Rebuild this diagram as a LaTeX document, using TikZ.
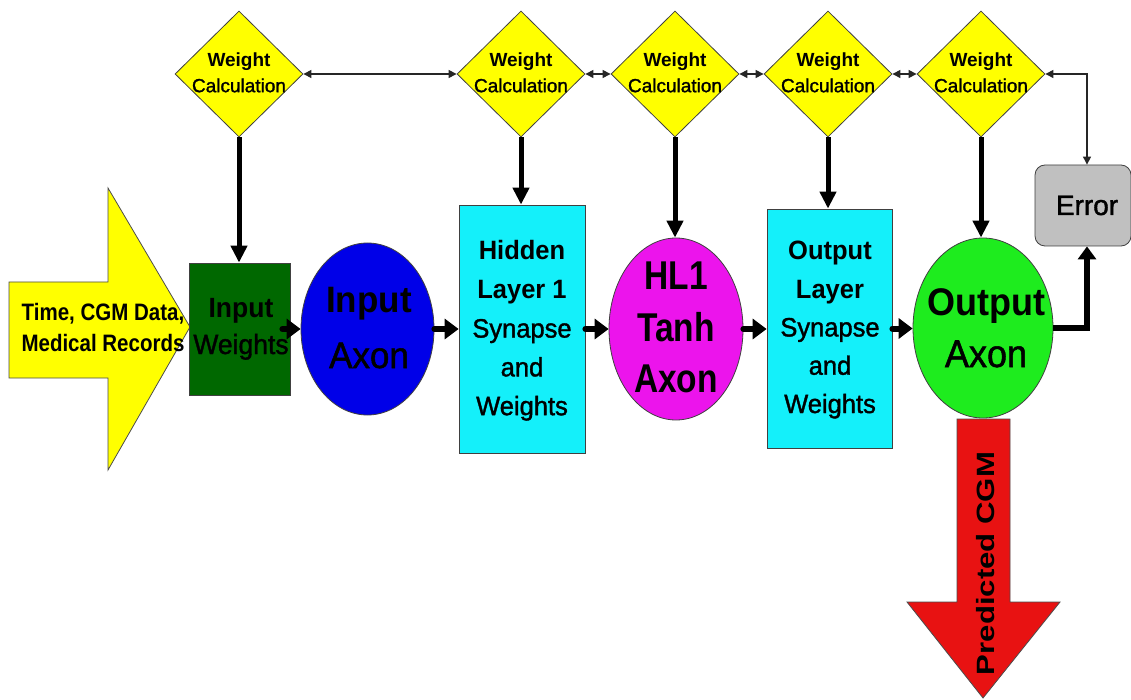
\documentclass[tikz,border=0pt]{standalone}
\usepackage{fontspec}
\setmainfont{Liberation Sans}
\newfontfamily\medium[FakeBold=1.4]{Liberation Sans}
\usepackage{graphicx}
\usetikzlibrary{shapes.geometric,arrows.meta}

\definecolor{calcyellow}{RGB}{255,255,0}
\definecolor{wgreen}{RGB}{0,104,0}
\definecolor{axblue}{RGB}{0,0,232}
\definecolor{layercyan}{RGB}{20,240,250}
\definecolor{hlmagenta}{RGB}{236,20,236}
\definecolor{outgreen}{RGB}{30,236,30}
\definecolor{errgray}{RGB}{192,192,192}
\definecolor{predred}{RGB}{232,18,18}

% stacked, centred lines: size, line pitch, vertical stretch, lines
\newcommand\stk[4]{\scalebox{1}[#3]{\fontsize{#1}{#2}\selectfont\begin{tabular}{@{}c@{}}#4\end{tabular}}}

\begin{document}
\begin{tikzpicture}[x=1pt,y=-1pt,
  lbl/.style={inner sep=0pt, text=black},
  calc/.style={diamond, draw=black!75, line width=0.8pt, fill=calcyellow,
    minimum width=128pt, minimum height=126pt, inner sep=0pt},
  boxed/.style={rectangle, draw=black!75, line width=0.8pt, inner sep=0pt},
  oval/.style={ellipse, draw=black!75, line width=0.8pt, inner sep=0pt},
  flow/.style={line width=6pt, line cap=round, -{Triangle[length=14pt,width=20pt]}},
  feed/.style={line width=5pt, -{Triangle[length=17pt,width=16pt]}},
  link/.style={line width=1.1pt, draw=black!85,
    {Triangle[length=8pt,width=8pt]}-{Triangle[length=8pt,width=8pt]}},
  arrowshape/.style={draw=black!70, line width=0.8pt}
]
\fill[white] (0,0) rectangle (1131,700);
\useasboundingbox (0,0) rectangle (1131,700);

% input arrow
\draw[arrowshape, fill=calcyellow] (9,282) -- (108,282) -- (108,188) -- (190,327)
  -- (108,470) -- (108,378) -- (9,378) -- cycle;
\node[lbl] (inputs) at (103,329.5)
  {\stk{20.5}{26.7}{1.16}{\bfseries Time, CGM Data,\\\bfseries Medical Records}};

% prediction arrow
\draw[arrowshape, fill=predred] (957,419) -- (1010,419) -- (1010,602) -- (1060,602)
  -- (983,698) -- (907,602) -- (957,602) -- cycle;

% weight calculation diamonds
\node[calc] (d1) at (239,74) {};
\node[calc] (d2) at (521,74) {};
\node[calc] (d3) at (675,74) {};
\node[calc] (d4) at (828,74) {};
\node[calc] (d5) at (981,74) {};
\foreach \d in {d1,d2,d3,d4,d5}
  \node[lbl] (\d t) at (\d) {\stk{19}{26}{1}{\bfseries Weight\\\medium Calculation}};

% network stages
\node[boxed, fill=wgreen, minimum width=101pt, minimum height=132pt] (iw) at (239.5,329) {};
\node[oval, fill=axblue, minimum width=133pt, minimum height=172pt] (ia) at (367.5,329) {};
\node[boxed, fill=layercyan, minimum width=126pt, minimum height=248pt] (hid) at (522,329) {};
\node[oval, fill=hlmagenta, minimum width=134pt, minimum height=182pt] (hl1) at (676,329) {};
\node[boxed, fill=layercyan, minimum width=125pt, minimum height=239pt] (ol) at (829.5,328.5) {};
\node[oval, fill=outgreen, minimum width=140pt, minimum height=180pt] (oa) at (983,328) {};
\node[boxed, fill=errgray, rounded corners=10pt, minimum width=96pt, minimum height=81pt] (err) at (1083,205.5) {};

% connectors
\draw[link] (d1.east) -- (d2.west);
\draw[link] (d2.east) -- (d3.west);
\draw[link] (d3.east) -- (d4.west);
\draw[link] (d4.east) -- (d5.west);
\draw[link] (d5.east) -| ([xshift=4pt]err.north);

\draw[feed] (d1.south) -- (d1.south |- iw.north);
\draw[feed] (d2.south) -- (d2.south |- hid.north);
\draw[feed] (d3.south) -- (d3.south |- hl1.north);
\draw[feed] (d4.south) -- (d4.south |- ol.north);
\draw[feed] (d5.south) -- (d5.south |- oa.north);

\draw[flow] ([xshift=-8pt]iw.east) -- (ia.west);
\draw[flow] (ia.east) -- (ia.east -| hid.west);
\draw[flow] (hid.east) -- (hid.east -| hl1.west);
\draw[flow] (hl1.east) -- (hl1.east -| ol.west);
\draw[flow] (ol.east) -- (ol.east -| oa.west);
\draw[line width=6pt, -{Triangle[length=13pt,width=18pt]}]
  (oa.east) -| ([xshift=4pt]err.south);

% stage labels
\node[lbl] (iwt) at (241,328.8)
  {\stk{26.5}{34.3}{1.05}{\bfseries Input\\\medium Weights}};
\node[lbl] (iat) at (369,329.5)
  {\stk{35}{52.4}{1.05}{\bfseries Input\\\medium Axon}};
\node[lbl] (hidt) at (522,329.8)
  {\stk{25.5}{37.3}{1.04}{\bfseries Hidden\\\bfseries Layer 1\\\medium Synapse\\\medium and\\\medium Weights}};
\node[lbl] (hl1t) at (676,331)
  {\stk{33.5}{42.9}{1.2}{\bfseries HL1\\\bfseries Tanh\\\bfseries Axon}};
\node[lbl] (olt) at (830,328.8)
  {\stk{25.5}{36.8}{1.04}{\bfseries Output\\\bfseries Layer\\\medium Synapse\\\medium and\\\medium Weights}};
\node[lbl] (oat) at (986,330.6)
  {\stk{36}{48.6}{1.07}{\bfseries Output\\\medium Axon}};
\node[lbl] (errt) at (1087,209.4) {\stk{28}{28}{1}{\medium Error}};
\node[lbl, rotate=90] (predt) at (986,563.5)
  {\scalebox{1.245}[1]{\fontsize{25}{25}\selectfont\bfseries Predicted CGM}};
\end{tikzpicture}
\end{document}
